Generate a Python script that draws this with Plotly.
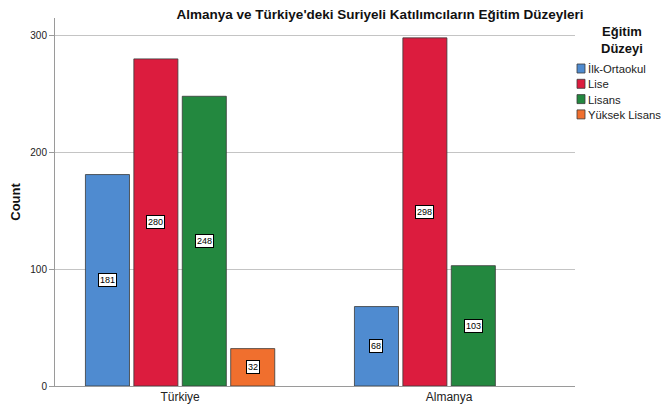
import plotly.graph_objects as go

countries = ["Türkiye", "Almanya"]
levels = ["İlk-Ortaokul", "Lise", "Lisans", "Yüksek Lisans"]
values = {
    "İlk-Ortaokul": [181, 68],
    "Lise": [280, 298],
    "Lisans": [248, 103],
    "Yüksek Lisans": [32, None],
}
colors = ["#4F8BD0", "#DC1C3E", "#23883F", "#F06F2E"]

FONT = "Arial, Liberation Sans, sans-serif"
OFF = 8  # page body margin
W, H = 669 - OFF, 415 - OFF
# plot area in page pixels: x 55..575, y 18..386
L = 55 - OFF
R = W - (575 - OFF)
T = 18 - OFF
B = H - (386 - OFF)
bargap = 0.28
slot = (1 - bargap) / len(levels)

fig = go.Figure()
for i, lev in enumerate(levels):
    fig.add_trace(go.Bar(
        name=lev, x=countries, y=values[lev], showlegend=False,
        marker=dict(color=colors[i], line=dict(color="#3a3a3a", width=0.8)),
    ))
    for j, v in enumerate(values[lev]):
        if v is None:
            continue
        fig.add_annotation(
            x=j + (i - 1.5) * slot, y=v / 2, text=str(v), showarrow=False,
            font=dict(size=9, color="black", family=FONT),
            bgcolor="white", bordercolor="black", borderwidth=1, borderpad=1,
        )

# manual legend (page pixel coords -> paper coords)
pw = W - L - R
ph = H - T - B
def px_x(px):
    return (px - OFF - L) / pw
def px_y(py):
    return (H - B - (py - OFF)) / ph

fig.add_annotation(xref="paper", yref="paper", x=px_x(622), y=px_y(40),
                   text="<b>Eğitim<br>Düzeyi</b>", showarrow=False, align="center",
                   xanchor="center", yanchor="middle",
                   font=dict(size=13, color="#111", family=FONT))
for i, lev in enumerate(levels):
    yc = 69 + i * 15.3
    fig.add_shape(type="rect", xref="paper", yref="paper",
                  x0=px_x(577), x1=px_x(585), y0=px_y(yc - 5), y1=px_y(yc + 4),
                  fillcolor=colors[i], line=dict(color="#3a3a3a", width=0.8))
    fig.add_annotation(xref="paper", yref="paper", x=px_x(585.5), y=px_y(yc),
                       text=lev, showarrow=False, xanchor="left", yanchor="middle",
                       font=dict(size=11.3, color="#222", family=FONT))

fig.update_layout(
    width=W, height=H,
    margin=dict(l=L, r=R, t=T, b=B, autoexpand=False),
    paper_bgcolor="white", plot_bgcolor="white",
    barmode="group", bargap=bargap, bargroupgap=0.09,
    font=dict(family=FONT, color="#222"),
    showlegend=False,
    title=dict(text="<b>Almanya ve Türkiye'deki Suriyeli Katılımcıların Eğitim Düzeyleri</b>",
               x=(380 - OFF) / W, xanchor="center", y=1.0, yanchor="top",
               pad=dict(t=2),
               font=dict(size=13.5, color="#111", family=FONT)),
    xaxis=dict(range=[-0.465, 1.468], showline=True, linecolor="#9a9a9a", linewidth=1,
               ticks="", tickfont=dict(size=12, color="#222"), automargin=False),
    yaxis=dict(range=[0, 315], showline=True, linecolor="#9a9a9a", linewidth=1,
               showgrid=True, gridcolor="#c4c4c4", gridwidth=1, zeroline=False,
               tickvals=[0, 100, 200, 300], ticks="outside", ticklen=5, tickcolor="#9a9a9a",
               tickfont=dict(size=10, color="#222"), automargin=False,
               title=dict(text="<b>Count</b>", font=dict(size=13, color="#111"), standoff=12)),
)

fig.write_html("out.html")
